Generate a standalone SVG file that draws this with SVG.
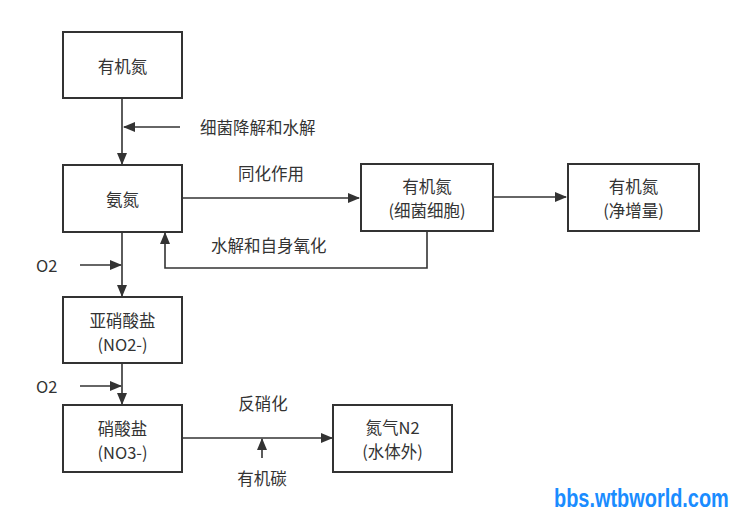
<svg xmlns="http://www.w3.org/2000/svg" width="736" height="515" viewBox="0 0 736 515">
<defs>
<marker id="ah" markerWidth="12" markerHeight="10" refX="11" refY="5" orient="auto" markerUnits="userSpaceOnUse">
<path d="M0,0 L12,5 L0,10 Z" fill="#333"/>
</marker>
</defs>
<style>
.box{fill:#fff;stroke:#333;stroke-width:2}
.ln{fill:none;stroke:#333;stroke-width:1.6}
.t{font-family:"Noto Sans CJK SC","Liberation Sans",sans-serif;font-size:16.5px;fill:#333;text-anchor:middle;dominant-baseline:central}
.l{font-family:"Noto Sans CJK SC","Liberation Sans",sans-serif;font-size:16.5px;fill:#333;dominant-baseline:central}
</style>
<rect width="736" height="515" fill="#fff"/>
<g id="connectors">
<path class="ln" d="M122,98 V164" marker-end="url(#ah)"/>
<path class="ln" d="M180,127 H124" marker-end="url(#ah)"/>
<path class="ln" d="M182,198 H359" marker-end="url(#ah)"/>
<path class="ln" d="M493,197 H566" marker-end="url(#ah)"/>
<path class="ln" d="M427,231 V268 H165 V233" marker-end="url(#ah)"/>
<path class="ln" d="M122,232 V296" marker-end="url(#ah)"/>
<path class="ln" d="M80,265 H121" marker-end="url(#ah)"/>
<path class="ln" d="M122,363 V404" marker-end="url(#ah)"/>
<path class="ln" d="M80,386 H121" marker-end="url(#ah)"/>
<path class="ln" d="M182,438 H332" marker-end="url(#ah)"/>
<path class="ln" d="M262,458 V439" marker-end="url(#ah)"/>
<text class="l" x="200" y="127">细菌降解和水解</text>
<text class="t" x="271" y="173">同化作用</text>
<text class="l" x="211" y="245">水解和自身氧化</text>
<text class="l" x="36" y="265">O2</text>
<text class="l" x="36" y="386">O2</text>
<text class="t" x="263" y="403">反硝化</text>
<text class="t" x="262" y="478">有机碳</text>
</g>
<g id="n1"><rect class="box" x="63" y="32" width="119" height="66"/><text class="t" x="122.5" y="66">有机氮</text></g>
<g id="n2"><rect class="box" x="63" y="165" width="119" height="67"/><text class="t" x="122.5" y="199">氨氮</text></g>
<g id="n3"><rect class="box" x="361" y="164" width="132" height="67"/><text class="t" x="427" y="186">有机氮</text><text class="t" x="427" y="210">(细菌细胞)</text></g>
<g id="n4"><rect class="box" x="568" y="164" width="131" height="67"/><text class="t" x="633.5" y="186">有机氮</text><text class="t" x="633.5" y="210">(净增量)</text></g>
<g id="n5"><rect class="box" x="63" y="297" width="119" height="66"/><text class="t" x="122.5" y="320">亚硝酸盐</text><text class="t" x="122.5" y="344">(NO2-)</text></g>
<g id="n6"><rect class="box" x="63" y="405" width="119" height="67"/><text class="t" x="122.5" y="428">硝酸盐</text><text class="t" x="122.5" y="452">(NO3-)</text></g>
<g id="n7"><rect class="box" x="333" y="405" width="119" height="67"/><text class="t" x="392.5" y="427">氮气N2</text><text class="t" x="392.5" y="451">(水体外)</text></g>
<text transform="translate(554,507) scale(0.797,1)" font-family="Liberation Sans,sans-serif" font-weight="bold" font-size="25" fill="#1a8cff">bbs.wtbworld.com</text>
</svg>
